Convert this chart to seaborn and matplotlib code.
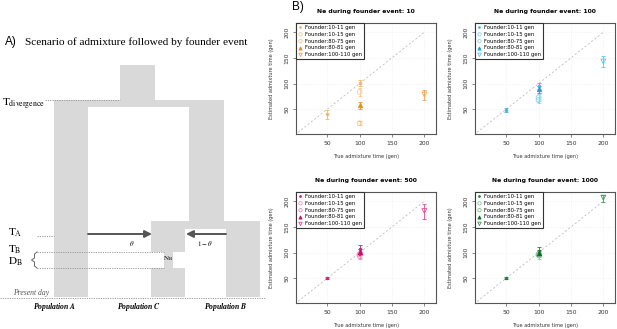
import matplotlib
matplotlib.use("Agg")
import matplotlib.pyplot as plt
import matplotlib.patches as mpatches
import seaborn as sns
import numpy as np
import pandas as pd

# ---------------- data ----------------
ne_levels = [10, 100, 500, 1000]
scenarios = ["Founder:10-11 gen", "Founder:10-15 gen", "Founder:80-75 gen",
             "Founder:80-81 gen", "Founder:100-110 gen"]

panel_ne = [10]*6 + [100]*6 + [500]*6 + [1000]*6
scen_idx = [0, 0, 1, 2, 3, 4,
            0, 0, 1, 2, 3, 4,
            0, 0, 1, 2, 3, 4,
            0, 0, 1, 2, 3, 4]
true_time = [50, 100, 100, 100, 100, 200,
             50, 100, 100, 100, 100, 200,
             50, 100, 100, 100, 100, 200,
             50, 100, 100, 100, 100, 200]
est_time = [40, 102, 84, 23, 58, 79,
            49, 96, 73, 68, 89, 143,
            51, 108, 97, 94, 101, 181,
            50, 104, 95, 97, 100, 207]
est_low = [31, 95, 76, 20, 51, 68,
           45, 90, 66, 63, 82, 132,
           49, 102, 90, 88, 95, 166,
           48, 99, 88, 91, 94, 198]
est_high = [48, 108, 92, 27, 65, 88,
            53, 101, 79, 74, 95, 154,
            53, 114, 104, 100, 107, 194,
            52, 111, 102, 103, 106, 213]
diag = [0, 200]
xticks = [50, 100, 150, 200]
yticks = [50, 100, 150, 200]

df = pd.DataFrame(dict(nev=panel_ne, scen=[scenarios[i] for i in scen_idx],
                       sidx=scen_idx, x=true_time, y=est_time,
                       lo=est_low, hi=est_high))

# ---------------- style ----------------
W, H = 617, 329
fig = plt.figure(figsize=(W/100, H/100), dpi=100)
plt.rcParams['mathtext.fontset'] = 'stix'
SERIF = ['Liberation Serif', 'DejaVu Serif']
SANS = ['Liberation Sans', 'DejaVu Sans']

# overlay axes in pixel coordinates (panel A diagram, panel letters)
ov = fig.add_axes([0, 0, 1, 1])
ov.set_xlim(0, W)
ov.set_ylim(H, 0)
ov.axis('off')

gray = '#D9D9D9'
rects = [(120, 65, 155, 100), (54, 100, 224, 107), (54, 107, 88, 297),
         (189, 107, 224, 221), (151, 221, 260, 229), (151, 229, 185, 252),
         (164, 252, 173, 268), (151, 268, 185, 297), (226, 229, 260, 297)]
for x0, y0, x1, y1 in rects:
    ov.add_patch(mpatches.Rectangle((x0, y0), x1-x0, y1-y0, fc=gray, ec='none', zorder=1))

dot = dict(color='#9A9A9A', lw=0.7, ls=(0, (1.2, 1.2)), zorder=2)
ov.plot([45, 120], [100, 100], **dot)
ov.plot([37, 54], [236, 236], **dot)
ov.plot([37, 164], [252, 252], **dot)
ov.plot([37, 164], [268, 268], **dot)
ov.plot([0, 265], [297.5, 297.5], **dot)
# brace
ov.plot([37, 34.5, 34.5, 31.5, 34.5, 34.5, 37], [252, 254, 258, 260, 262, 266, 268],
        color='#666666', lw=0.7, zorder=2)

# arrows
ov.annotate('', xy=(152, 234), xytext=(88, 234),
            arrowprops=dict(arrowstyle='-|>,head_length=0.7,head_width=0.35', color='#555555', lw=1.4,
                            mutation_scale=6, shrinkA=0, shrinkB=0), zorder=3)
ov.annotate('', xy=(186, 234), xytext=(226, 234),
            arrowprops=dict(arrowstyle='-|>,head_length=0.7,head_width=0.35', color='#555555', lw=1.4,
                            mutation_scale=6, shrinkA=0, shrinkB=0), zorder=3)
ov.text(132, 244, r'$\theta$', fontsize=5, ha='center', va='center')
ov.text(205, 244, r'$1-\theta$', fontsize=5, ha='center', va='center')
ov.text(168.5, 259, r'$\mathrm{N_B}$', fontsize=5, ha='center', va='center', zorder=4)

ov.text(2, 104, r'$\mathrm{T_{divergence}}$', fontsize=8, ha='left', va='center')
ov.text(8, 233, r'$\mathrm{T_A}$', fontsize=8, ha='left', va='center')
ov.text(8, 250, r'$\mathrm{T_B}$', fontsize=8, ha='left', va='center')
ov.text(8, 262, r'$\mathrm{D_B}$', fontsize=8, ha='left', va='center')
ov.text(13, 293, 'Present day', fontsize=5.5, family=SERIF, style='italic',
        color='#555555', ha='left', va='center')
for cx, lab in [(55, 'A'), (139, 'C'), (226, 'B')]:
    ov.text(cx, 307, 'Population $\\boldsymbol{' + lab + '}$', fontsize=5.5, family=SERIF,
            style='italic', weight='bold', ha='center', va='center')

ov.text(5, 42, 'A)', fontsize=8.5, family=SANS, ha='left', va='center')
ov.text(25, 42, 'Scenario of admixture followed by founder event', fontsize=8.1,
        family=SERIF, ha='left', va='center')
ov.text(292, 7, 'B)', fontsize=8.5, family=SANS, ha='left', va='center')

# ---------------- panel B ----------------
palettes = {
    10: ['#F7B26A', '#F9C999', '#F6C38E', '#F08A1C', '#F5A24A'],
    100: ['#3FB7E3', '#8FD6F0', '#88D3EF', '#1E9FD4', '#5CC6EA'],
    500: ['#D81B7C', '#EE8DBE', '#E98AB9', '#C2106A', '#E04A98'],
    1000: ['#1E7F3A', '#86C796', '#7DC08E', '#0E6A2A', '#3A9E56'],
}
markers = ['.', 'o', 'o', '^', 'v']
open_m = [False, True, True, False, True]
sizes = [14, 12, 12, 10, 12]

boxes = {10: (296, 23, 436, 134), 100: (475, 23, 615, 134),
         500: (296, 192, 436, 303), 1000: (475, 192, 615, 303)}

for ne in ne_levels:
    x0, y0, x1, y1 = boxes[ne]
    ax = fig.add_axes([x0/W, 1-y1/H, (x1-x0)/W, (y1-y0)/H])
    ax.set_facecolor('white')
    sub = df[df['nev'] == ne]
    ax.plot(diag, diag, color='#BDBDBD', lw=0.6, ls=(0, (2.5, 2.5)), zorder=1)
    for k, sc in enumerate(scenarios):
        d = sub[sub['sidx'] == k]
        c = palettes[ne][k]
        ax.errorbar(d['x'], d['y'], yerr=[d['y'] - d['lo'], d['hi'] - d['y']], fmt='none',
                    ecolor=c, elinewidth=0.6, capsize=1.3, capthick=0.6, zorder=2)
        sns.scatterplot(x=d['x'].values, y=d['y'].values, ax=ax, marker=markers[k],
                        s=sizes[k], color=c, linewidth=0.6, label=sc, zorder=3)
        coll = ax.collections[-1]
        if open_m[k]:
            coll.set_facecolor('none')
        coll.set_edgecolor(c)
    ax.set_xlim(2, 218)
    ax.set_ylim(2, 218)
    ax.set_xticks(xticks)
    ax.set_yticks(yticks)
    ax.grid(True, color='#EBEBEB', lw=0.5, ls=':')
    ax.set_axisbelow(True)
    for s in ax.spines.values():
        s.set_color('#555555')
        s.set_linewidth(0.8)
    ax.tick_params(length=2.5, width=0.5, color='#555555', labelsize=4.3,
                   labelcolor='#333333', pad=2.5)
    for t in ax.get_yticklabels():
        t.set_rotation(90)
        t.set_va('center')
    ax.set_xlabel('True admixture time (gen)', fontsize=3.6, color='#333333', labelpad=6)
    ax.set_ylabel('Estimated admixture time (gen)', fontsize=3.6, color='#333333', labelpad=7)
    ax.set_title(f'Ne during founder event: {ne}', fontsize=4.4, weight='bold', pad=7.5)
    leg = ax.legend(loc='upper left', borderaxespad=0, fontsize=3.8, frameon=True,
                    fancybox=False, edgecolor='#333333', framealpha=1,
                    handletextpad=0.3, labelspacing=0.35, borderpad=0.35,
                    handlelength=1.0, markerscale=0.7)
    leg.get_frame().set_linewidth(0.8)

fig.savefig('out.png', dpi=100)
